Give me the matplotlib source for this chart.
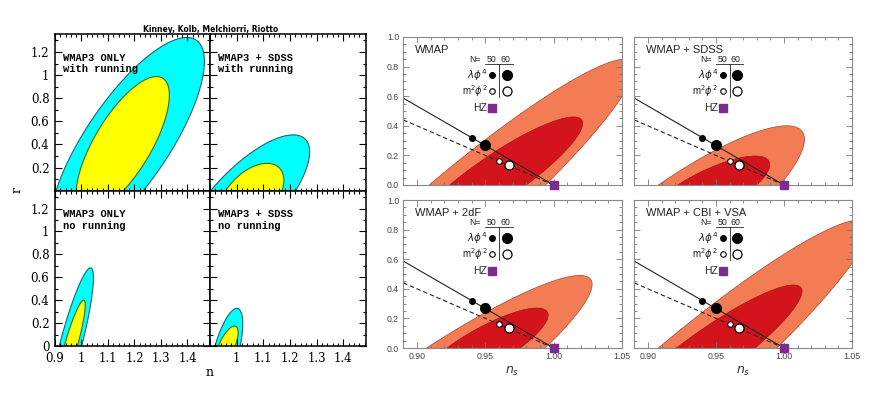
import numpy as np
import matplotlib
matplotlib.use('Agg')
import matplotlib.pyplot as plt
from matplotlib.ticker import MultipleLocator

W, H = 872, 393

# ---- left figure (n, r) : WMAP3 with / without running ----
# contour = [n at r=0 left, n at r=0 right, n at top, r at top, r of centre]
left_text = [('WMAP3 ONLY', 'with running'), ('WMAP3 + SDSS', 'with running'),
             ('WMAP3 ONLY', 'no running'), ('WMAP3 + SDSS', 'no running')]
left_cyan = [[0.904, 1.233, 1.397, 1.326, 0.42],
             [0.9025, 1.221, 1.212, 0.483, -0.10],
             [0.916, 1.0006, 1.034, 0.682, 0.0],
             [0.919, 1.0132, 1.0006, 0.328, -0.05]]
left_yellow = [[0.98, 1.158, 1.283, 0.988, 0.40],
               [0.959, 1.17, 1.114, 0.237, -0.05],
               [0.935, 0.9845, 1.008, 0.40, 0.0],
               [0.9315, 0.994, 0.9918, 0.174, 0.0]]
left_n_ticks = [0.9, 1.0, 1.1, 1.2, 1.3, 1.4]
left_r_ticks = [0, 0.2, 0.4, 0.6, 0.8, 1.0, 1.2]

# ---- right figure (n_s, r) : WMAP combinations ----
right_titles = ['WMAP', 'WMAP + SDSS', 'WMAP + 2dF', 'WMAP + CBI + VSA']
right_95 = [[0.909, 0.994, 1.052, 0.85, -0.25],
            [0.9077, 0.997, 1.002, 0.40, -0.30],
            [0.907, 0.9938, 1.019, 0.49, -0.40],
            [0.9077, 0.9947, 1.055, 0.865, -0.25]]
right_68 = [[0.924, 0.980, 1.0145, 0.46, 0.05],
            [0.922, 0.980, 0.9787, 0.196, -0.05],
            [0.922, 0.9755, 0.9877, 0.27, 0.0],
            [0.921, 0.9787, 1.007, 0.426, -0.05]]
lam_n = [0.94, 0.95]
lam_r = [0.32, 0.267]
m2_n = [0.96, 0.967]
m2_r = [0.16, 0.133]
hz_n = [1.0]
hz_r = [0.0]
lam_line_n = [0.89, 1.0]
lam_line_r = [0.587, 0.0]
m2_line_n = [0.89, 1.0]
m2_line_r = [0.44, 0.0]
right_n_ticks = [0.90, 0.95, 1.00, 1.05]
right_r_ticks = [0.0, 0.2, 0.4, 0.6, 0.8, 1.0]


def contour_shape(c):
    L, R, n_top, r_top, r_c = c
    mid = 0.5 * (L + R)
    n_c = mid + (n_top - mid) * r_c / r_top
    un, ur = n_top - n_c, r_top - r_c
    h = 0.5 * (R - L) / np.sqrt(1 - (r_c / ur) ** 2)
    t = np.linspace(0, 2 * np.pi, 400)
    return n_c + un * np.cos(t) + h * np.sin(t), r_c + ur * np.cos(t)


def box(x0, y0, x1, y1):
    return [x0 / W, 1 - y1 / H, (x1 - x0) / W, (y1 - y0) / H]


plt.rcParams['mathtext.fontset'] = 'dejavusans'
fig = plt.figure(figsize=(W / 100, H / 100), dpi=100)

serif = 'DejaVu Serif'
mono = 'Liberation Mono'
sans = 'Liberation Sans'

left_boxes = [box(55, 34, 210, 190.7), box(210, 34, 366, 190.7),
              box(55, 190.7, 210, 346), box(210, 190.7, 366, 346)]
for i, b in enumerate(left_boxes):
    ax = fig.add_axes(b)
    n, r = contour_shape(left_cyan[i])
    ax.fill(n, r, color='#00ffff', ec='#1c6470', lw=0.8)
    n, r = contour_shape(left_yellow[i])
    ax.fill(n, r, color='#ffff00', ec='#3a6a2a', lw=0.8)
    ax.set_xlim(0.9, 1.485)
    ax.set_ylim(0, 1.356)
    ax.xaxis.set_minor_locator(MultipleLocator(0.02))
    ax.yaxis.set_minor_locator(MultipleLocator(0.1))
    ax.set_xticks(left_n_ticks)
    ax.set_yticks(left_r_ticks)
    ax.tick_params(which='both', direction='in', top=True, right=True,
                   width=0.8, labelsize=8.5, pad=4)
    ax.tick_params(which='major', length=5)
    ax.tick_params(which='minor', length=2.5)
    for s in ax.spines.values():
        s.set_linewidth(1.1)
    if i % 2 == 0:
        ylab = ['%g' % v for v in left_r_ticks]
        if i == 0:
            ylab[0] = ''
        ax.set_yticklabels(ylab, family=serif)
    else:
        ax.set_yticklabels([])
    if i >= 2:
        xlab = ['%g' % v for v in left_n_ticks]
        if i == 3:
            xlab[0] = ''
        ax.set_xticklabels(xlab, family=serif)
    else:
        ax.set_xticklabels([])
    ax.text(0.05, 0.848, left_text[i][0], transform=ax.transAxes, family=mono,
            fontsize=7.5, fontweight='bold', va='center')
    ax.text(0.05, 0.775, left_text[i][1], transform=ax.transAxes, family=mono,
            fontsize=7.5, fontweight='bold', va='center')

fig.text(210.5 / W, 1 - 30 / H, 'Kinney, Kolb, Melchiorri, Riotto', ha='center',
         va='center', fontsize=5.5, fontweight='bold')
fig.text(17 / W, 1 - 190 / H, 'r', rotation=90, ha='center', va='center',
         family=serif, fontsize=9)
fig.text(210 / W, 1 - 372 / H, 'n', ha='center', va='center', family=serif,
         fontsize=9)

right_boxes = [box(403.3, 37, 622, 185), box(634.3, 37, 852, 185),
               box(403.3, 200, 622, 348), box(634.3, 200, 852, 348)]
for i, b in enumerate(right_boxes):
    ax = fig.add_axes(b)
    n, r = contour_shape(right_95[i])
    ax.fill(n, r, color='#f47c55', ec='#a8452a', lw=0.5)
    n, r = contour_shape(right_68[i])
    ax.fill(n, r, color='#d3141c', ec='#9a1010', lw=0.4)
    ax.plot(lam_line_n, lam_line_r, color='#222222', lw=0.8)
    ax.plot(m2_line_n, m2_line_r, color='#222222', lw=0.8, ls=(0, (4, 2.5)))
    ax.plot(lam_n[0], lam_r[0], 'o', color='black', ms=4)
    ax.plot(lam_n[1], lam_r[1], 'o', color='black', ms=7)
    ax.plot(m2_n[0], m2_r[0], 'o', mfc='white', mec='black', ms=4, mew=0.8)
    ax.plot(m2_n[1], m2_r[1], 'o', mfc='white', mec='black', ms=6.5, mew=0.9)
    ax.plot(hz_n, hz_r, 's', color='#7b2d8e', ms=5.5, clip_on=False, zorder=5)
    ax.set_xlim(0.89, 1.05)
    ax.set_ylim(0, 1.0)
    ax.set_xticks(right_n_ticks)
    ax.set_yticks(right_r_ticks)
    ax.xaxis.set_minor_locator(MultipleLocator(0.01))
    ax.yaxis.set_minor_locator(MultipleLocator(0.05))
    ax.tick_params(which='both', direction='in', top=True, right=True,
                   width=0.6, color='#777777', labelcolor='#444444',
                   labelsize=6.3, pad=3)
    ax.tick_params(which='major', length=4)
    ax.tick_params(which='minor', length=2)
    for s in ax.spines.values():
        s.set_linewidth(0.8)
        s.set_color('#888888')
    if i % 2 == 0:
        ax.set_yticklabels(['%.1f' % v for v in right_r_ticks], family=sans)
    else:
        ax.set_yticklabels([])
    if i >= 2:
        ax.set_xticklabels(['%.2f' % v for v in right_n_ticks], family=sans)
    else:
        ax.set_xticklabels([])

    tr = ax.transAxes
    ax.text(0.053, 0.912, right_titles[i], transform=tr, family=sans,
            fontsize=8, va='center', color='#222222')
    ax.text(0.354, 0.85, 'N=', transform=tr, family=sans, fontsize=6.3,
            ha='right', va='center', color='#222222')
    ax.text(0.403, 0.85, '50', transform=tr, family=sans, fontsize=6.3,
            ha='center', va='center', color='#222222')
    ax.text(0.465, 0.85, '60', transform=tr, family=sans, fontsize=6.3,
            ha='center', va='center', color='#222222')
    ax.plot([0.375, 0.5], [0.815, 0.815], transform=tr, color='#222222', lw=0.6)
    ax.plot([0.439, 0.439], [0.815, 0.595], transform=tr, color='#222222', lw=0.6)
    ax.text(0.384, 0.74, r'$\lambda\phi^4$', transform=tr, fontsize=7.5,
            ha='right', va='center', color='#222222')
    ax.text(0.384, 0.635, r'm$^2\phi^2$', transform=tr, family=sans, fontsize=7,
            ha='right', va='center', color='#222222')
    ax.text(0.384, 0.52, 'HZ', transform=tr, family=sans, fontsize=7.5,
            ha='right', va='center', color='#222222')
    ax.plot(0.407, 0.74, 'o', transform=tr, color='black', ms=4)
    ax.plot(0.473, 0.74, 'o', transform=tr, color='black', ms=7)
    ax.plot(0.407, 0.635, 'o', transform=tr, mfc='white', mec='black', ms=4, mew=0.8)
    ax.plot(0.473, 0.635, 'o', transform=tr, mfc='white', mec='black', ms=6.5, mew=0.9)
    ax.plot(0.407, 0.52, 's', transform=tr, color='#7b2d8e', ms=5.5)

fig.text(512 / W, 1 - 371 / H, r'$n_s$', ha='center', va='center', fontsize=9,
         color='#333333')
fig.text(743 / W, 1 - 371 / H, r'$n_s$', ha='center', va='center', fontsize=9,
         color='#333333')

fig.savefig('out.png', dpi=100)
